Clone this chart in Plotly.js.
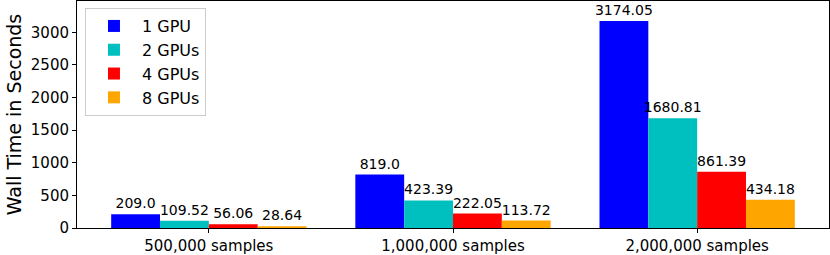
<!DOCTYPE html>
<html>
<head>
<meta charset="utf-8">
<script src="https://cdn.plot.ly/plotly-3.0.1.min.js"></script>
<style>html,body{margin:0;padding:0;background:#fff;}#chart{width:830px;height:255px;}</style>
</head>
<body>
<div id="chart"></div>
<script>
const categories = ["500,000 samples", "1,000,000 samples", "2,000,000 samples"];
const seriesNames = ["1 GPU", "2 GPUs", "4 GPUs", "8 GPUs"];
const gpu1 = [209.0, 819.0, 3174.05];
const gpu2 = [109.52, 423.39, 1680.81];
const gpu4 = [56.06, 222.05, 861.39];
const gpu8 = [28.64, 113.72, 434.18];
const labels1 = ["209.0", "819.0", "3174.05"];
const labels2 = ["109.52", "423.39", "1680.81"];
const labels4 = ["56.06", "222.05", "861.39"];
const labels8 = ["28.64", "113.72", "434.18"];
const colors = ["#0000ff", "#00bfbf", "#ff0000", "#ffa500"];
const yTicks = [0, 500, 1000, 1500, 2000, 2500, 3000];

const allValues = [gpu1, gpu2, gpu4, gpu8];
const allLabels = [labels1, labels2, labels4, labels8];
const font = "DejaVu Sans, sans-serif";

const data = allValues.map((vals, i) => ({
  type: "bar",
  name: seriesNames[i],
  x: categories,
  y: vals,
  text: allLabels[i],
  textposition: "outside",
  textfont: {family: font, size: 14, color: "#000"},
  constraintext: "none",
  cliponaxis: false,
  marker: {color: colors[i], line: {width: 0}},
  hoverinfo: "none"
}));

const layout = {
  width: 830, height: 255,
  margin: {l: 77, r: 1, t: 1, b: 27},
  paper_bgcolor: "#fff", plot_bgcolor: "#fff",
  barmode: "group", bargap: 0.2, bargroupgap: 0,
  font: {family: font, size: 15, color: "#000"},
  showlegend: true,
  legend: {
    x: 0.0106, y: 0.969, xanchor: "left", yanchor: "top",
    bgcolor: "rgba(255,255,255,0.8)", bordercolor: "#cccccc", borderwidth: 1,
    font: {family: font, size: 16, color: "#000"},
    itemwidth: 46,
    tracegroupgap: 0
  },
  xaxis: {
    type: "category",
    range: [-0.54, 2.54],
    showgrid: false, zeroline: false,
    showline: true, linecolor: "#000", linewidth: 1, mirror: true,
    ticks: "outside", ticklen: 4, tickcolor: "#000",
    tickfont: {family: font, size: 15, color: "#000"}
  },
  yaxis: {
    range: [0, 3480],
    tickvals: yTicks,
    ticktext: yTicks.map(String),
    showgrid: false, zeroline: false,
    showline: true, linecolor: "#000", linewidth: 1, mirror: true,
    ticks: "outside", ticklen: 4, tickcolor: "#000",
    tickfont: {family: font, size: 15, color: "#000"},
    title: {text: "Wall Time in Seconds", font: {family: font, size: 19, color: "#000"}, standoff: 4}
  }
};

Plotly.newPlot("chart", data, layout, {displayModeBar: false, staticPlot: true});
</script>
</body>
</html>
